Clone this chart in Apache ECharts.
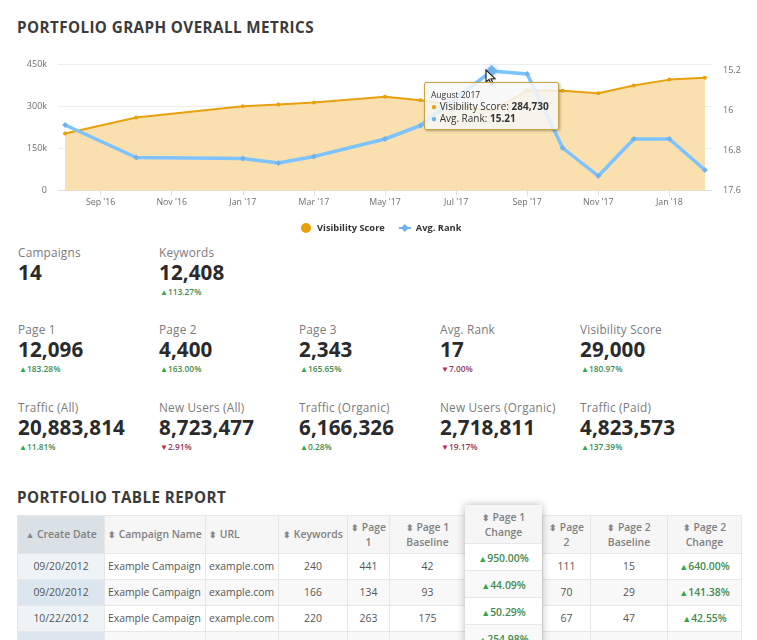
<!DOCTYPE html>
<html><head><meta charset="utf-8">
<script src="https://cdn.jsdelivr.net/npm/echarts@6/dist/echarts.min.js"></script>
<style>
html,body{margin:0;padding:0;background:#fff;width:757px;height:640px;overflow:hidden;font-family:"Open Sans",sans-serif}
#page{position:relative;width:757px;height:640px;overflow:hidden}
#chart{position:absolute;left:0;top:0;width:757px;height:240px}
h2{position:absolute;left:17px;margin:0;font:700 15.2px/20px "Open Sans",sans-serif;letter-spacing:.42px;color:#3b3b3b;white-space:nowrap}
.m{position:absolute;white-space:nowrap}
.l{font:400 11.8px/14px "Open Sans",sans-serif;color:#7b7b7b;letter-spacing:.2px}
.v{font:700 20.6px/26px "Open Sans",sans-serif;color:#2a2a2c;letter-spacing:.1px}
.d{font:600 8.4px/12px "Open Sans",sans-serif;margin-top:1px;padding-left:1px}
.d.up{color:#3f8a4f}.d.up i{color:#2fa84a}
.d.dn{color:#96385c}.d.dn i{color:#b8244a}
.d i{font-style:normal;font-size:8px}
.tb{position:absolute;border-collapse:collapse;table-layout:fixed;left:17px;top:515px;font:400 10.4px/15px "Open Sans",sans-serif;color:#555}
.tb th,.tb td{border:1px solid #e7e7e7;padding:0;text-align:center;overflow:hidden;white-space:nowrap}
.tb th{background:#f6f6f6;font-weight:600;color:#808080;height:37px;white-space:normal}
.tb td{height:25px}
.tb tr:nth-child(even) td{background:#f8f8f8}
.tb th.sorted{background:#d9e1e6}
.tb td.c0{background:#eef3f7!important}
.tb tr:nth-child(even) td.c0{background:#dde6ee!important}
.tb td.left,.tb th.left{text-align:left;padding-left:3px}
.s{font-size:9px;color:#888}
.up2{color:#3f8a4f;font-weight:600}.up2 i{font-style:normal;color:#2fa84a;font-size:9px}
#raised{position:absolute;left:465px;top:505px;width:77px;height:140px;background:#fff;box-shadow:0 0 8px rgba(0,0,0,.28);font:400 10.4px/15px "Open Sans",sans-serif}
#raised .h{height:39px;background:#f6f6f6;border-bottom:1px solid #e7e7e7;text-align:center;color:#808080;font-weight:600;padding-top:5px;box-sizing:border-box}
#raised .r{height:27px;border-bottom:1px solid #e7e7e7;text-align:center;line-height:28px;box-sizing:border-box}
#raised .r:nth-child(odd){background:#f9f9f9}
#cursor{position:absolute;left:485px;top:69px;width:12px;height:17px}
</style></head><body>
<div id="page">
<h2 style="top:17px">PORTFOLIO GRAPH OVERALL METRICS</h2>
<div id="chart"></div>
<svg id="cursor" viewBox="0 0 12 17"><path d="M1 1 L1 13 L4 10.5 L6.2 15.5 L8.2 14.6 L6 9.8 L10 9.6 Z" fill="#fff" stroke="#222" stroke-width="1.2"/></svg>
<div id="metrics"></div>
<h2 style="top:487px">PORTFOLIO TABLE REPORT</h2>
<div id="table"></div>
<div id="raised"></div>
</div>
<script>
// ---- chart data
const months = ["Aug '16","Sep '16","Oct '16","Nov '16","Dec '16","Jan '17","Feb '17","Mar '17","Apr '17","May '17","Jun '17","Jul '17","Aug '17","Sep '17","Oct '17","Nov '17","Dec '17","Jan '18","Feb '18"];
const visibilityScore = [203600,null,260700,null,null,301000,307000,314000,null,334600,322000,null,284730,357000,356000,347000,375000,396000,403000];
const avgRank = [16.29,null,16.94,null,null,16.96,17.05,16.92,null,16.57,16.30,null,15.21,15.27,16.75,17.31,16.57,16.57,17.19];
const labelledMonths = [1,3,5,7,9,11,13,15,17];
const rankTicks = [15.2,16,16.8,17.6];
const tipTitle = "August 2017";
const tipIndex = 12;

// ---- metric data
const metricRows = [
  [["Campaigns","14",null,null],["Keywords","12,408","up","113.27%"]],
  [["Page 1","12,096","up","183.28%"],["Page 2","4,400","up","163.00%"],["Page 3","2,343","up","165.65%"],["Avg. Rank","17","dn","7.00%"],["Visibility Score","29,000","up","180.97%"]],
  [["Traffic (All)","20,883,814","up","11.81%"],["New Users (All)","8,723,477","dn","2.91%"],["Traffic (Organic)","6,166,326","up","0.28%"],["New Users (Organic)","2,718,811","dn","19.17%"],["Traffic (Paid)","4,823,573","up","137.39%"]]
];
const metricX = [18,159,299,440,580];
const metricY = [245,322,400];

// ---- table data
const tableHeaders = ["Create Date","Campaign Name","URL","Keywords","Page<br>1","Page 1<br>Baseline","Page 1<br>Change","Page<br>2","Page 2<br>Baseline","Page 2<br>Change"];
const tableWidths = [87,101,73,69,42,76,77,48,77,74];
const tableRows = [
  ["09/20/2012","Example Campaign","example.com","240","441","42","950.00%","111","15","640.00%"],
  ["09/20/2012","Example Campaign","example.com","166","134","93","44.09%","70","29","141.38%"],
  ["10/22/2012","Example Campaign","example.com","220","263","175","50.29%","67","47","42.55%"],
  ["","","","","","","254.98%","","",""]
];

// ---- metrics
document.getElementById('metrics').innerHTML = metricRows.map((row,ri)=>row.map((m,ci)=>
 `<div class="m" style="left:${metricX[ci]}px;top:${metricY[ri]}px"><div class="l">${m[0]}</div><div class="v">${m[1]}</div>`+
 (m[2]?`<div class="d ${m[2]}"><i>${m[2]==='up'?'▲':'▼'}</i>${m[3]}</div>`:'')+`</div>`).join('')).join('');

// ---- table
const arrow=(i)=>`<span class="s">${i===0?'▲':'⬍'}</span> `;
let html='<table class="tb" style="width:'+tableWidths.reduce((a,b)=>a+b,0)+'px"><colgroup>'+tableWidths.map(w=>`<col style="width:${w}px">`).join('')+'</colgroup><thead><tr>'+
 tableHeaders.map((h,i)=>`<th class="${i===0?'sorted':''}${(i===1||i===2)?' left':''}">${i===6?'':arrow(i)+h}</th>`).join('')+'</tr></thead><tbody>'+
 tableRows.map(r=>'<tr>'+r.map((c,i)=>{
   if(i===6) return '<td></td>';
   const cls=(i===0?'c0':'')+((i===1||i===2)?' left':'');
   const t=(i===9&&c)?`<span class="up2"><i>▲</i>${c}</span>`:c;
   return `<td class="${cls}">${t}</td>`;}).join('')+'</tr>').join('')+'</tbody></table>';
document.getElementById('table').innerHTML=html;
document.getElementById('raised').innerHTML=`<div class="h">${arrow(6)}${tableHeaders[6]}</div>`+
 tableRows.map(r=>`<div class="r"><span class="up2"><i>▲</i>${r[6]}</span></div>`).join('');

// ---- chart
const chart = echarts.init(document.getElementById('chart'));
const axisGrey='#6e6e6e';
chart.setOption({
  animation:false,
  textStyle:{fontFamily:'"Open Sans",sans-serif'},
  grid:{left:58,right:45,top:64.5,height:126,containLabel:false},
  tooltip:{trigger:'item',alwaysShowContent:true,triggerOn:'none',transitionDuration:0,
    position:()=>[424,82],padding:[6,6,5,6],
    backgroundColor:'rgba(247,247,247,.85)',borderColor:'#c9a343',borderWidth:1,
    extraCssText:'box-shadow:1px 1px 3px rgba(0,0,0,.3);border-radius:2px;width:121px;height:35px;box-sizing:content-box;',
    formatter:()=>`<div style="font:400 8.5px/11px 'Open Sans';color:#333">${tipTitle}</div>`+
     `<div style="font:400 10px/12px 'Open Sans';color:#333;white-space:nowrap"><span style="color:#e8a00d">●</span> Visibility Score: <b>${visibilityScore[tipIndex].toLocaleString('en-US')}</b></div>`+
     `<div style="font:400 10px/12px 'Open Sans';color:#333;white-space:nowrap"><span style="color:#6fb1ea">●</span> Avg. Rank: <b>${avgRank[tipIndex]}</b></div>`},
  legend:{top:218,left:296,itemGap:13,itemHeight:10,itemWidth:12,
    textStyle:{fontSize:9.3,fontWeight:700,color:'#333',fontFamily:'"Open Sans",sans-serif'},
    data:[{name:'Visibility Score',icon:'circle'},{name:'Avg. Rank'}]},
  xAxis:{type:'value',min:-0.2,max:18.2,
    axisLine:{show:true,lineStyle:{color:'#d8dde8'}},
    axisTick:{show:true,length:5,lineStyle:{color:'#d8dde8'},customValues:labelledMonths},
    splitLine:{show:false},
    axisLabel:{customValues:labelledMonths,color:axisGrey,fontSize:8.8,margin:7,hideOverlap:false,formatter:v=>months[v]}},
  yAxis:[
    {type:'value',min:0,max:450000,interval:150000,
     axisLine:{show:false},axisTick:{show:false},
     splitLine:{lineStyle:{color:'#eeeeee'}},
     axisLabel:{color:axisGrey,fontSize:9,margin:11,formatter:v=>v?v/1000+'k':'0'}},
    {type:'value',inverse:true,min:15.08,max:17.6,position:'right',
     axisLine:{show:false},axisTick:{show:false},splitLine:{show:false},
     axisLabel:{customValues:rankTicks,color:axisGrey,fontSize:9,margin:11,hideOverlap:false}}
  ],
  series:[
    {name:'Visibility Score',type:'line',yAxisIndex:0,connectNulls:true,
     data:visibilityScore.map((v,i)=>[i,v]),
     symbol:'circle',symbolSize:4,showSymbol:true,
     lineStyle:{color:'#e8a00d',width:2},itemStyle:{color:'#e8a00d'},
     areaStyle:{color:'#f9e0ae',opacity:1},z:2},
    {name:'Avg. Rank',type:'line',yAxisIndex:1,connectNulls:true,
     data:avgRank.map((v,i)=>[i,v]),
     symbol:'diamond',symbolSize:6,showSymbol:true,
     lineStyle:{color:'#71b2ec',width:3.5},itemStyle:{color:'#71b2ec'},
     emphasis:{scale:2,itemStyle:{color:'#71b2ec',shadowBlur:5,shadowColor:'rgba(113,178,236,.6)'}},z:3}
  ]
});
chart.dispatchAction({type:'highlight',seriesIndex:1,dataIndex:tipIndex});
chart.dispatchAction({type:'showTip',seriesIndex:1,dataIndex:tipIndex});
</script>
</body></html>
